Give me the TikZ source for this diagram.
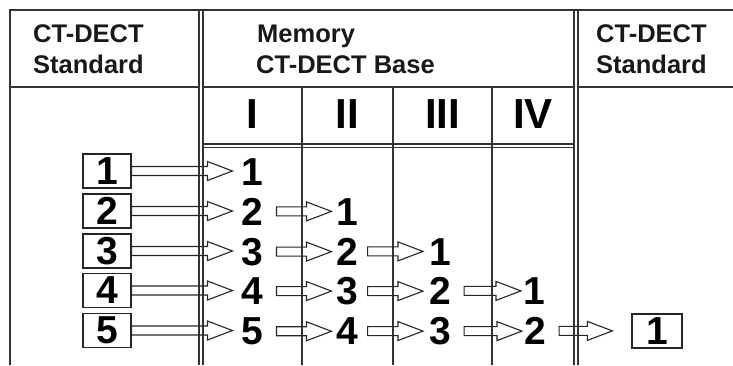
\documentclass[tikz,border=0pt]{standalone}
\usepackage{fontspec}
\setmainfont{Liberation Sans}
\usetikzlibrary{calc}
\newcommand\harrow[4]{%
  \draw[hollow] let \p1=(#1), \p2=(#2) in
    (\x1+#3pt,\y1+4.5pt) -- (\x2-#4pt-25pt,\y1+4.5pt) -- (\x2-#4pt-25pt,\y1+9.5pt)
    -- (\x2-#4pt,\y1) -- (\x2-#4pt-25pt,\y1-9.5pt) -- (\x2-#4pt-25pt,\y1-4.5pt)
    -- (\x1+#3pt,\y1-4.5pt) -- cycle;}
\begin{document}
\begin{tikzpicture}[x=1pt,y=-1pt,
  gridline/.style={line width=1.1pt, draw=black!80},
  hdr/.style={font=\bfseries\fontsize{25.5}{28}\selectfont, inner sep=0pt, anchor=base west, text=black!90},
  roman/.style={font=\bfseries\fontsize{42}{44}\selectfont, inner sep=0pt, anchor=base},
  dig/.style={font=\bfseries\fontsize{39}{40}\selectfont, inner sep=0pt, anchor=base},
  numbox/.style={draw=black!85, line width=1.3pt, minimum width=48pt, minimum height=34pt, inner sep=0pt, font=\bfseries\fontsize{39}{40}\selectfont},
  hollow/.style={draw=black!85, line width=1.1pt, line join=miter}]
\useasboundingbox (0,0) rectangle (733,365);
% grid
\draw[gridline] (10,365) -- (10,10) -- (733,10);
\draw[gridline] (199,10) -- (199,365);
\draw[gridline] (203,10) -- (203,365);
\draw[gridline] (574,10) -- (574,365);
\draw[gridline] (578,10) -- (578,365);
\draw[gridline] (10,87) -- (199,87);
\draw[gridline] (203,87) -- (574,87);
\draw[gridline] (578,87) -- (733,87);
\draw[gridline] (302,87) -- (302,365);
\draw[gridline] (393,87) -- (393,365);
\draw[gridline] (492,87) -- (492,365);
\draw[gridline] (203,144) -- (574,144);
\draw[gridline] (203,147.5) -- (574,147.5);
% headers
\node[hdr] (l1) at (33,42) {CT-DECT};
\node[hdr] (l2) at (33,73) {Standard};
\node[hdr] (m1) at (257,42) {Memory};
\node[hdr] (m2) at (256,73) {CT-DECT Base};
\node[hdr] (r1) at (596,42) {CT-DECT};
\node[hdr] (r2) at (596,73) {Standard};
\node[roman] (c1) at (252.5,128) {I};
\node[roman] (c2) at (347.5,128) {II};
\node[roman] (c3) at (442.5,128) {III};
\node[roman] (c4) at (533,128) {IV};
% input boxes
\node[numbox] (b1) at (107,171) {1};
\node[numbox] (b2) at (107,211) {2};
\node[numbox] (b3) at (107,251) {3};
\node[numbox] (b4) at (107,290.5) {4};
\node[numbox] (b5) at (107,330.5) {5};
% memory digits
\node[dig] (a11) at (252.5,185) {1};
\node[dig] (a21) at (252.5,225) {2};
\node[dig] (a22) at (347.5,225) {1};
\node[dig] (a31) at (252.5,265) {3};
\node[dig] (a32) at (347.5,265) {2};
\node[dig] (a33) at (440,265) {1};
\node[dig] (a41) at (252.5,304.5) {4};
\node[dig] (a42) at (347.5,304.5) {3};
\node[dig] (a43) at (440,304.5) {2};
\node[dig] (a44) at (534,304.5) {1};
\node[dig] (a51) at (252.5,344.5) {5};
\node[dig] (a52) at (347.5,344.5) {4};
\node[dig] (a53) at (440,344.5) {3};
\node[dig] (a54) at (535,344.5) {2};
% output box
\node[numbox, minimum width=50pt] (out) at (657,331) {1};
% arrows
\harrow{b1.east}{a11.west}{0}{9}
\harrow{b2.east}{a21.west}{0}{9}
\harrow{b3.east}{a31.west}{0}{9}
\harrow{b4.east}{a41.west}{0}{9}
\harrow{b5.east}{a51.west}{0}{9}
\harrow{a21.east}{a22.west}{13}{5}
\harrow{a31.east}{a32.west}{13}{5}
\harrow{a41.east}{a42.west}{13}{5}
\harrow{a51.east}{a52.west}{13}{5}
\harrow{a32.east}{a33.west}{9}{6}
\harrow{a42.east}{a43.west}{9}{6}
\harrow{a52.east}{a53.west}{9}{6}
\harrow{a43.east}{a44.west}{13}{2}
\harrow{a53.east}{a54.west}{13}{2}
\harrow{a54.east}{out.west}{13}{19}
\end{tikzpicture}
\end{document}
